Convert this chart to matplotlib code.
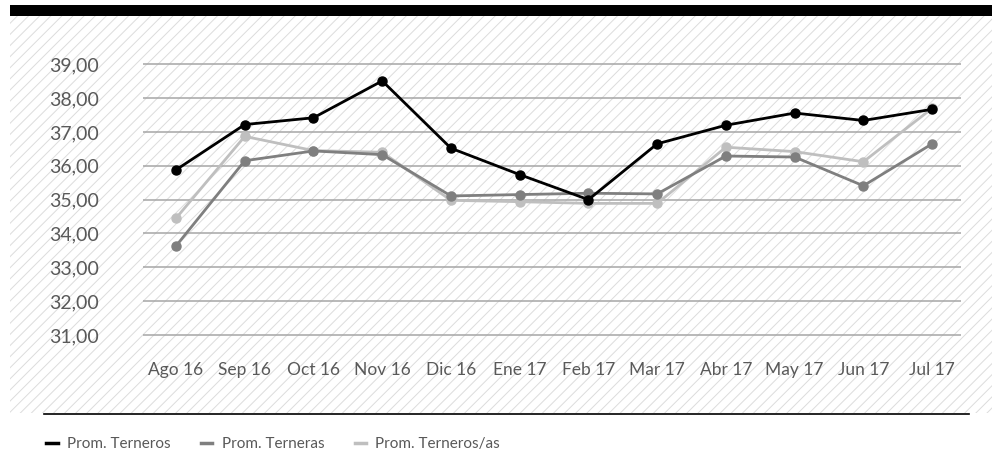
import matplotlib.pyplot as plt
from matplotlib.patches import Rectangle
from matplotlib.lines import Line2D

months = ['Ago 16', 'Sep 16', 'Oct 16', 'Nov 16', 'Dic 16', 'Ene 17',
          'Feb 17', 'Mar 17', 'Abr 17', 'May 17', 'Jun 17', 'Jul 17']
terneros = [35.88, 37.22, 37.42, 38.51, 36.52, 35.74, 35.00, 36.65, 37.20, 37.56, 37.34, 37.67]
terneras = [33.63, 36.15, 36.44, 36.33, 35.11, 35.15, 35.19, 35.17, 36.29, 36.26, 35.41, 36.65]
terneros_as = [34.45, 36.87, 36.45, 36.40, 34.98, 34.94, 34.89, 34.89, 36.55, 36.42, 36.12, 37.70]
y_ticks = [31, 32, 33, 34, 35, 36, 37, 38, 39]

plt.rcParams['font.family'] = ['Lato', 'DejaVu Sans']
plt.rcParams['hatch.linewidth'] = 0.7

W, H = 992, 467
fig = plt.figure(figsize=(W / 100, H / 100), dpi=100)

# striped background + black top bar
fig.patches.append(Rectangle((10 / W, 1 - 413 / H), 982 / W, 397 / H, transform=fig.transFigure,
                             facecolor='white', edgecolor='#dcdcdc', hatch='///', lw=0, zorder=-2))
fig.patches.append(Rectangle((10 / W, 1 - 16 / H), 982 / W, 11 / H, transform=fig.transFigure,
                             facecolor='black', lw=0, zorder=-1))
fig.lines.append(Line2D([44 / W, 969 / W], [1 - 414 / H, 1 - 414 / H], transform=fig.transFigure,
                        color='black', lw=1.2))

ax = fig.add_axes([143 / W, 1 - 355.3 / H, (961 - 143) / W, (355.3 - 47.4) / H])
ax.set_zorder(2)
ax.patch.set_alpha(0)

x = list(range(len(months)))
ax.plot(x, terneras, color='#7f7f7f', lw=2, marker='o', ms=6.5, label='Prom. Terneras', zorder=3)
ax.plot(x, terneros_as, color='#bfbfbf', lw=2, marker='o', ms=6.5, label='Prom. Terneros/as', zorder=2)
ax.plot(x, terneros, color='black', lw=2, marker='o', ms=6.5, label='Prom. Terneros', zorder=4)

ax.set_xlim(-0.48, 11.42)
ax.set_ylim(30.4, 39.5)
ax.set_yticks(y_ticks)
ax.set_yticklabels([f'{v:.2f}'.replace('.', ',') for v in y_ticks])
ax.set_xticks(x)
ax.set_xticklabels(months)
ax.grid(axis='y', color='#a6a6a6', lw=1.1)
ax.set_axisbelow(True)
for s in ax.spines.values():
    s.set_visible(False)
ax.tick_params(axis='y', length=0, pad=32, labelsize=14, labelcolor='#595959')
ax.tick_params(axis='x', length=0, pad=5, labelsize=12.5, labelcolor='#595959')

handles = [Line2D([], [], color=c, lw=2.5) for c in ['black', '#7f7f7f', '#bfbfbf']]
fig.legend(handles, ['Prom. Terneros', 'Prom. Terneras', 'Prom. Terneros/as'],
           loc='center left', bbox_to_anchor=(40 / W, 1 - 444 / H), ncol=3, frameon=False,
           fontsize=11, labelcolor='#595959', handlelength=0.75, handletextpad=0.6,
           columnspacing=2.0, borderaxespad=0)

fig.savefig('out.png', dpi=100)
